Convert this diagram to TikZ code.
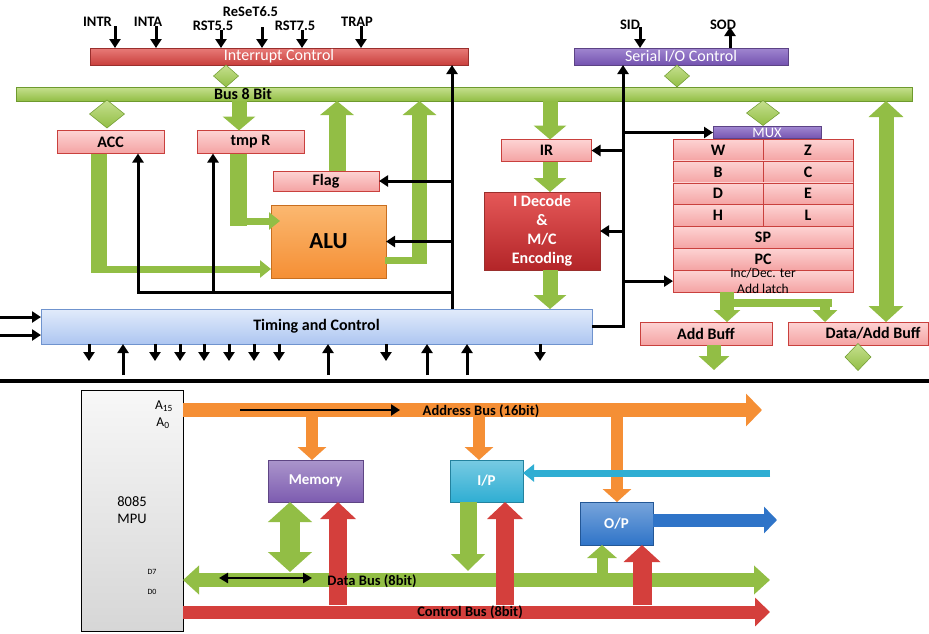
\documentclass[tikz,border=0pt]{standalone}
\usepackage{fontspec}
\setmainfont{Carlito}
\usetikzlibrary{arrows.meta,calc}
\definecolor{grn}{HTML}{92BE45}
\definecolor{grnD}{HTML}{6E9A2E}
\definecolor{grnL}{HTML}{C6E08F}
\definecolor{redbar}{HTML}{C9403D}
\definecolor{redL}{HTML}{E87B78}
\definecolor{redD}{HTML}{9A2F2D}
\definecolor{prp}{HTML}{7453B0}
\definecolor{prpL}{HTML}{A086D0}
\definecolor{prpD}{HTML}{5C4385}
\definecolor{orng}{HTML}{F58F35}
\definecolor{orngL}{HTML}{FBB870}
\definecolor{orngD}{HTML}{C86E1F}
\definecolor{pinkT}{HTML}{FDD3D3}
\definecolor{pinkB}{HTML}{F4A3A3}
\definecolor{decT}{HTML}{E55858}
\definecolor{decB}{HTML}{B32528}
\definecolor{tcT}{HTML}{E2EBFB}
\definecolor{tcB}{HTML}{ADC6F1}
\definecolor{tcD}{HTML}{6F93CE}
\definecolor{cyn}{HTML}{2FAED3}
\definecolor{blu}{HTML}{2F74C8}
\definecolor{redarr}{HTML}{D43F3C}
\definecolor{memc}{HTML}{7D5CB0}
\newcommand\gdiamond[4]{\path[gdia] (#1-#3,#2) -- (#1,#2-#4) -- (#1+#3,#2) -- (#1,#2+#4) -- cycle;}
\tikzset{
  base/.style={font=\fontsize{16}{18}\selectfont, inner sep=0pt, outer sep=0pt},
  bfont/.style={font=\fontsize{16}{18}\selectfont\bfseries},
  sfont/.style={font=\fontsize{14.5}{17}\selectfont\bfseries},
  lbl/.style={base, font=\fontsize{14.5}{16}\selectfont\bfseries},
  redst/.style={base, rectangle, draw=redD, line width=0.5pt, top color=redL, bottom color=redbar, text=white},
  prpst/.style={base, rectangle, draw=prpD, line width=0.5pt, top color=prpL, bottom color=prp, text=white},
  gbar/.style={base, rectangle, draw=grnD, line width=0.5pt, top color=grnL, bottom color=grn},
  pinkbox/.style={base, bfont, rectangle, draw=redbar, line width=0.5pt, top color=pinkT, bottom color=pinkB},
  alust/.style={base, rectangle, draw=orngD, line width=0.5pt, top color=orngL, bottom color=orng, font=\fontsize{23}{26}\selectfont\bfseries},
  decst/.style={base, rectangle, draw=redD, line width=0.5pt, top color=decT, bottom color=decB, text=white, font=\fontsize{16}{19}\selectfont\bfseries, align=center},
  tcst/.style={base, bfont, rectangle, draw=tcD, line width=0.6pt, top color=tcT, bottom color=tcB},
  mpust/.style={base, rectangle, draw=black, line width=0.8pt, top color=gray!6, bottom color=gray!32, align=center, font=\fontsize{14.5}{17}\selectfont},
  lowbox/.style={base, font=\fontsize{15}{17}\selectfont\bfseries, rectangle, text=white, line width=0.5pt, draw=#1!75!black, top color=#1!65!white, bottom color=#1},
  blk/.style={line width=3pt, -{Triangle[width=11pt,length=9pt]}},
  blkd/.style={line width=2.5pt, {Triangle[width=10pt,length=9pt]}-{Triangle[width=10pt,length=9pt]}},
  garr/.style n args={3}{draw=grn, line width=#1, -{Triangle[width=#2,length=#3]}},
  gdbl/.style n args={3}{draw=grn, line width=#1, {Triangle[width=#2,length=#3]}-{Triangle[width=#2,length=#3]}},
  rarr/.style n args={3}{draw=redarr, line width=#1, -{Triangle[width=#2,length=#3]}},
  oarr/.style n args={3}{draw=orng, line width=#1, -{Triangle[width=#2,length=#3]}},
  gdia/.style={draw=grnD, line width=0.5pt, top color=grnL, bottom color=grn},
}
\begin{document}
\begin{tikzpicture}[x=1pt,y=-1pt]
\useasboundingbox (0,0) rectangle (929,633);
\fill[white] (0,0) rectangle (929,633);

% ---------- top bars ----------
\node[redst, minimum width=378pt, minimum height=17pt] (intc) at (279,56.5) {Interrupt Control};
\node[prpst, minimum width=214pt, minimum height=17pt] (sioc) at (681,56.5) {Serial I/O Control};
\node[gbar, minimum width=896pt, minimum height=14pt] (bus) at (464,94) {};
\node[base, bfont] (busl) at (243,94) {Bus 8 Bit};

\gdiamond{226}{76}{12.5}{11}
\gdiamond{677}{76}{12.5}{11}
\gdiamond{107}{114}{17.5}{14}
\gdiamond{763}{113}{16.5}{12.5}

% ---------- labels & interrupt arrows ----------
\node[lbl] (lintr) at (97.5,22) {INTR};
\node[lbl] (linta) at (148,22) {INTA};
\node[lbl] (lrst5) at (213,26) {RST5.5};
\node[lbl] (lrst6) at (250.5,12) {ReSeT6.5};
\node[lbl] (lrst7) at (295,26) {RST7.5};
\node[lbl] (ltrap) at (357,22) {TRAP};
\node[lbl] (lsid) at (630,25) {SID};
\node[lbl] (lsod) at (723,25) {SOD};
\coordinate (pintr) at (115,26);
\coordinate (pinta) at (156,26);
\coordinate (prst5) at (221,30);
\coordinate (prst6) at (262,27);
\coordinate (prst7) at (302,30);
\coordinate (ptrap) at (361,26);
\coordinate (psid) at (640,27);
\coordinate (psod) at (730,27);
\foreach \p in {pintr,pinta,prst5,prst6,prst7,ptrap} \draw[blk] (\p) -- (\p |- intc.north);
\draw[blk] (psid) -- (psid |- sioc.north);
\draw[blk] (psod |- sioc.north) -- (psod);

% ---------- ALU section ----------
\node[pinkbox, minimum width=107pt, minimum height=23pt] (acc) at (110.5,142) {ACC};
\node[pinkbox, minimum width=107pt, minimum height=23pt] (tmpr) at (250.5,142) {tmp R};
\node[pinkbox, minimum width=106pt, minimum height=20pt] (flag) at (326,181) {Flag};
\node[alust, minimum width=115pt, minimum height=73pt] (alu) at (328.5,241.5) {ALU};

\coordinate (xtg) at (239,0);
\draw[garr={15pt}{32pt}{14pt}] (xtg |- bus.south) -- (xtg |- tmpr.north);
\coordinate (xac) at (99,273);
\draw[draw=grn, line width=16pt] (xac |- acc.south) -- (xac);
\coordinate (hac) at (91,269);
\draw[garr={7pt}{17pt}{11pt}] (hac) -- (hac -| alu.west);
\coordinate (xtp) at (238.5,226);
\draw[draw=grn, line width=17pt] (xtp |- tmpr.south) -- (xtp);
\coordinate (htp) at (230,221);
\draw[garr={7pt}{17pt}{11pt}] (htp) -- ($(htp -| alu.west)+(9,0)$);
\coordinate (hal) at (427,260);
\draw[draw=grn, line width=7pt] ($(hal -| alu.east)+(-1,0)$) -- (hal);
\coordinate (xal) at (419.5,264);
\draw[garr={15pt}{33pt}{14pt}] (xal) -- (xal |- bus.south);
\coordinate (xfl) at (337,0);
\draw[garr={17pt}{33pt}{14pt}] (xfl |- flag.north) -- (xfl |- bus.south);

% black control lines (left)
\coordinate (xv1) at (452,0);
\coordinate (xacc) at (138,292);
\coordinate (xtmp) at (213,292);
\node[tcst, minimum width=551pt, minimum height=35pt] (timing) at (316.5,326.5) {Timing and Control};
\draw[blk] (xv1 |- timing.north) -- (xv1 |- intc.south);
\draw[blk] (xv1 |- flag.east) -- (flag.east);
\draw[blk] (xv1 |- alu.east) -- (alu.east);
\draw[blk] (xv1 |- xacc) -- (xacc) -- (xacc |- acc.south);
\draw[blk] (xtmp) -- (xtmp |- tmpr.south);

% ---------- IR / decode ----------
\node[pinkbox, minimum width=90pt, minimum height=22pt] (ir) at (546.5,150.5) {IR};
\node[decst, minimum width=116pt, minimum height=78pt] (idec) at (542,231) {I Decode\\\&\\M/C\\Encoding};
\coordinate (xir) at (550,0);
\draw[garr={15pt}{32pt}{14pt}] (xir |- bus.south) -- (xir |- ir.north);
\draw[garr={15pt}{32pt}{14pt}] (xir |- ir.south) -- (xir |- idec.north);
\draw[garr={15pt}{32pt}{14pt}] (xir |- idec.south) -- (xir |- timing.north);

% ---------- registers ----------
\node[prpst, minimum width=108pt, minimum height=12pt, font=\fontsize{14.5}{15}\selectfont] (mux) at (767,132.5) {MUX};
\node[pinkbox, minimum width=90pt, minimum height=21.86pt] (rw) at (718,150) {W};
\node[pinkbox, minimum width=90pt, minimum height=21.86pt] (rz) at (808,150) {Z};
\node[pinkbox, minimum width=90pt, minimum height=21.86pt] (rb) at (718,171.86) {B};
\node[pinkbox, minimum width=90pt, minimum height=21.86pt] (rc) at (808,171.86) {C};
\node[pinkbox, minimum width=90pt, minimum height=21.86pt] (rd) at (718,193.71) {D};
\node[pinkbox, minimum width=90pt, minimum height=21.86pt] (re) at (808,193.71) {E};
\node[pinkbox, minimum width=90pt, minimum height=21.86pt] (rh) at (718,215.57) {H};
\node[pinkbox, minimum width=90pt, minimum height=21.86pt] (rl) at (808,215.57) {L};
\node[pinkbox, minimum width=180pt, minimum height=21.86pt] (rsp) at (763,237.43) {SP};
\node[pinkbox, minimum width=180pt, minimum height=21.86pt] (rpc) at (763,259.29) {PC};
\node[pinkbox, minimum width=180pt, minimum height=21.86pt] (rinc) at (763,281.14) {};
\node[base, font=\fontsize{13.5}{15}\selectfont] (tinc) at (763,273) {Inc/Dec. ter};
\node[base, font=\fontsize{13.5}{15}\selectfont] (tadd) at (763,289) {Add latch};

% black control lines (right)
\coordinate (xv2) at (623,0);
\draw[blk] (timing.east) -- (xv2 |- timing.east) -- (xv2 |- sioc.south);
\draw[blk] (xv2 |- mux.west) -- (mux.west);
\draw[blk] (xv2 |- ir.east) -- (ir.east);
\draw[blk] (xv2 |- idec.east) -- (idec.east);
\draw[blk] (xv2 |- rinc.west) -- (rinc.west);

% ---------- buffers ----------
\node[pinkbox, minimum width=132pt, minimum height=23pt] (addbuf) at (706,333.5) {Add Buff};
\node[pinkbox, minimum width=140pt, minimum height=23pt] (dabuf) at (858,333.5) {};
\node[base, bfont] (dabl) at (873,333.5) {Data/Add Buff};
\coordinate (xr1) at (727,0);
\draw[garr={14pt}{26pt}{12pt}] (xr1 |- rinc.south) -- (xr1 |- addbuf.north);
\coordinate (hr1) at (720,303);
\coordinate (hr2) at (832,303);
\draw[draw=grn, line width=8pt] (hr1) -- (hr2);
\coordinate (xr2) at (825,306);
\draw[garr={10pt}{24pt}{12pt}] (xr2) -- (xr2 |- dabuf.north);
\coordinate (xbd) at (886,0);
\draw[gdbl={15pt}{34pt}{16pt}] (xbd |- bus.south) -- (xbd |- dabuf.north);
\coordinate (xab) at (714,370);
\draw[garr={14pt}{30pt}{14pt}] (xab |- addbuf.south) -- (xab);
\gdiamond{858}{357}{13}{13.5}

% ---------- timing I/O arrows ----------
\coordinate (in1) at (0,317);
\coordinate (in2) at (0,335);
\draw[blk] (in1) -- (in1 -| timing.west);
\draw[blk] (in2) -- (in2 -| timing.west);
\foreach \x in {89,155,180,204,229,254,279,386,540} {\coordinate (td\x) at (\x,361); \draw[blk] (td\x |- timing.south) -- (td\x);}
\foreach \x in {123,328,427,467} {\coordinate (tu\x) at (\x,375); \draw[blk] (tu\x) -- (tu\x |- timing.south);}
\coordinate (sepL) at (0,380.5);
\coordinate (sepR) at (929,380.5);
\draw[line width=4pt] (sepL) -- (sepR);

% ---------- lower system ----------
\node[mpust, minimum width=102pt, minimum height=241pt] (mpu) at (132,510.5) {8085\\MPU};
\node[base, font=\fontsize{13.5}{15}\selectfont] (a15) at (164,406) {A\textsubscript{15}};
\node[base, font=\fontsize{13.5}{15}\selectfont] (a0) at (163,423) {A\textsubscript{0}};
\node[base, font=\fontsize{8}{9}\selectfont] (d7) at (152,572) {D7};
\node[base, font=\fontsize{8}{9}\selectfont] (d0) at (152,592) {D0};

\node[lowbox=memc, minimum width=95pt, minimum height=42pt] (mem) at (315.5,481) {Memory};
\node[lowbox=cyn, minimum width=73pt, minimum height=42pt] (ip) at (486.5,481) {I/P};
\node[lowbox=blu, minimum width=73pt, minimum height=43pt] (op) at (616.5,523.5) {O/P};

% address bus
\coordinate (xm) at (312,410);
\coordinate (xi) at (479,410);
\coordinate (xo) at (617,410);
\draw[oarr={12pt}{28pt}{13pt}] (xm) -- (xm |- mem.north);
\draw[oarr={12pt}{28pt}{13pt}] (xi) -- (xi |- ip.north);
\draw[oarr={12pt}{28pt}{13pt}] (xo) -- (xo |- op.north);
\coordinate (abR) at (762,410);
\draw[oarr={14pt}{32pt}{16pt}] (abR -| mpu.east) -- (abR);
\node[base, sfont] (abl) at (481,411) {Address Bus (16bit)};
\coordinate (bk1) at (240,410);
\coordinate (bk2) at (400,410);
\draw[blk, line width=2.5pt] (bk1) -- (bk2);

% I/O side arrows
\coordinate (cy) at (770,473);
\draw[draw=cyn, line width=7pt, -{Triangle[width=17pt,length=11pt]}] (cy) -- (cy -| ip.east);
\coordinate (bl) at (777,520);
\draw[draw=blu, line width=13pt, -{Triangle[width=26pt,length=13pt]}] (bl -| op.east) -- (bl);

% data bus
\coordinate (dbR) at (770,580);
\draw[gdbl={14pt}{28pt}{16pt}] (dbR -| mpu.east) -- (dbR);
\coordinate (xmd) at (290,572);
\draw[gdbl={20pt}{43pt}{20pt}] (xmd |- mem.south) -- (xmd);
\coordinate (xig) at (468,571);
\draw[garr={17pt}{33pt}{17pt}] (xig |- ip.south) -- (xig);
\coordinate (xog) at (602,573);
\draw[garr={11pt}{29pt}{13pt}] (xog) -- (xog |- op.south);
\coordinate (db1) at (219,578);
\coordinate (db2) at (312,578);
\draw[blkd] (db1) -- (db2);

% control bus
\coordinate (xmr) at (338,605);
\coordinate (xipr) at (505,605);
\coordinate (xopr) at (642,605);
\draw[rarr={18pt}{35pt}{17pt}] (xmr) -- (xmr |- mem.south);
\draw[rarr={18pt}{35pt}{17pt}] (xipr) -- (xipr |- ip.south);
\draw[rarr={19pt}{36pt}{17pt}] (xopr) -- (xopr |- op.south);
\coordinate (cbR) at (770,612);
\draw[rarr={13pt}{28pt}{15pt}] (cbR -| mpu.east) -- (cbR);
\node[base, sfont] (dbl) at (372,581) {Data Bus (8bit)};
\node[base, sfont] (cbl) at (470,612) {Control Bus (8bit)};
\end{tikzpicture}
\end{document}
